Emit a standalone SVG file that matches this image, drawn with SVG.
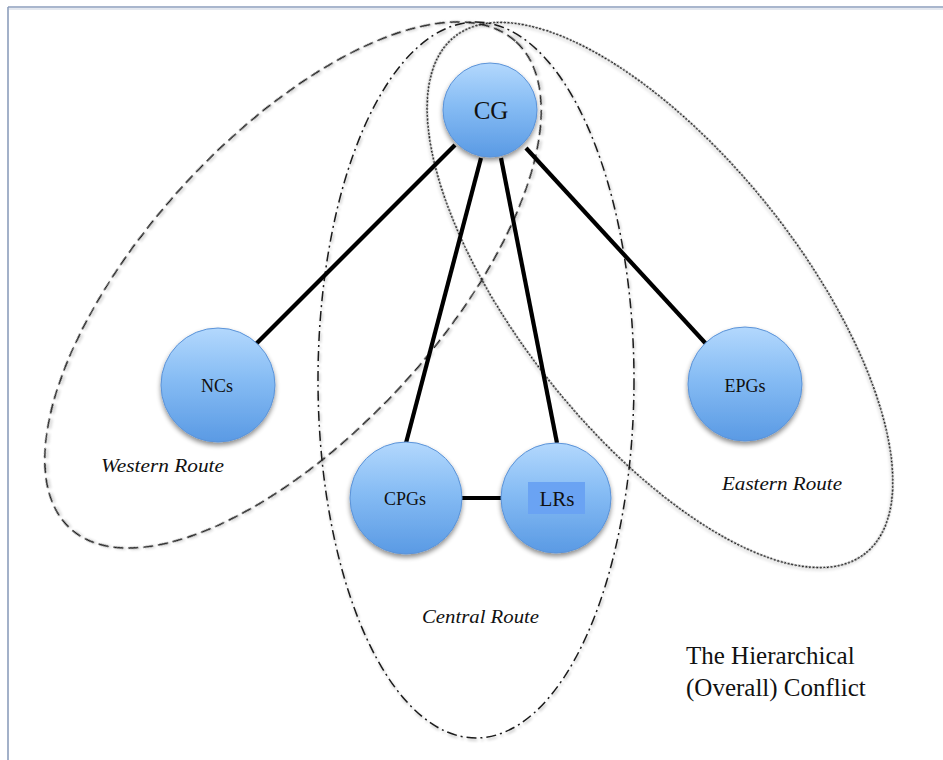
<svg xmlns="http://www.w3.org/2000/svg" width="943" height="760" viewBox="0 0 943 760">
  <defs>
    <linearGradient id="ballFill" x1="0" y1="0" x2="0" y2="1">
      <stop offset="0" stop-color="#b3d8fd"/>
      <stop offset="0.45" stop-color="#86bcf4"/>
      <stop offset="1" stop-color="#5a9ae4"/>
    </linearGradient>
    <filter id="ballShadow" x="-20%" y="-20%" width="140%" height="150%">
      <feGaussianBlur in="SourceAlpha" stdDeviation="2.5"/>
      <feOffset dy="3" result="blur"/>
      <feComponentTransfer><feFuncA type="linear" slope="0.45"/></feComponentTransfer>
      <feMerge><feMergeNode/><feMergeNode in="SourceGraphic"/></feMerge>
    </filter>
    <filter id="lineShadow" x="-10%" y="-10%" width="120%" height="120%">
      <feGaussianBlur in="SourceAlpha" stdDeviation="1.5"/>
      <feOffset dx="1" dy="2"/>
      <feComponentTransfer><feFuncA type="linear" slope="0.3"/></feComponentTransfer>
      <feMerge><feMergeNode/><feMergeNode in="SourceGraphic"/></feMerge>
    </filter>
  </defs>
  <style>
    .frame { stroke: #8c9ebc; stroke-width: 1.6; fill: none; }
    .route { fill: none; stroke: #1a1a1a; stroke-width: 1.5; filter: url(#lineShadow); }
    .west { stroke-dasharray: 10 5; }
    .central { stroke-dasharray: 10 4 2 4; }
    .east { stroke-dasharray: 2.2 1.4; stroke-width: 1.5; stroke: #111; }
    .edge { stroke: #000; stroke-width: 4.2; stroke-linecap: butt; }
    .ball { fill: url(#ballFill); stroke: #5b93d8; stroke-width: 1; filter: url(#ballShadow); }
    .lbl { font-family: "Liberation Serif", "Times New Roman", serif; fill: #111; text-anchor: middle; }
    .route-lbl { font-family: "Liberation Serif", "Times New Roman", serif; font-style: italic; fill: #111; font-size: 19px; }
    .title { font-family: "Liberation Serif", "Times New Roman", serif; fill: #111; font-size: 25px; }
  </style>

  <rect width="943" height="760" fill="#ffffff"/>

  <!-- page frame -->
  <g id="frame">
    <line x1="8" y1="7" x2="943" y2="7" class="frame"/>
    <line x1="8" y1="7" x2="8" y2="760" class="frame"/>
    <line x1="9" y1="9" x2="943" y2="9" stroke="#e4e8ef" stroke-width="2"/>
  </g>

  <!-- route groupings -->
  <g id="routes">
    <ellipse id="western-route" class="route west" cx="293" cy="285" rx="330" ry="148" transform="rotate(-47.5 293 285)"/>
    <ellipse id="central-route" class="route central" cx="476" cy="380" rx="158" ry="358"/>
    <ellipse id="eastern-route" class="route east" cx="660" cy="295" rx="330" ry="140" transform="rotate(51.5 660 295)"/>
  </g>

  <!-- connectors -->
  <g id="connectors">
    <line class="edge" x1="455" y1="145" x2="255" y2="345"/>
    <line class="edge" x1="481" y1="158" x2="406" y2="443"/>
    <line class="edge" x1="501" y1="158" x2="557" y2="443"/>
    <line class="edge" x1="526" y1="148" x2="708" y2="346"/>
    <line class="edge" x1="460" y1="498" x2="503" y2="498" stroke-width="7"/>
  </g>

  <!-- nodes -->
  <g id="node-cg">
    <circle class="ball" cx="490" cy="110" r="47"/>
    <text class="lbl" x="491" y="119" font-size="25">CG</text>
  </g>
  <g id="node-ncs">
    <circle class="ball" cx="218" cy="385" r="57"/>
    <text class="lbl" x="217" y="392" font-size="18">NCs</text>
  </g>
  <g id="node-epgs">
    <circle class="ball" cx="745" cy="384" r="57"/>
    <text class="lbl" x="745" y="392" font-size="18">EPGs</text>
  </g>
  <g id="node-cpgs">
    <circle class="ball" cx="406" cy="498" r="56"/>
    <text class="lbl" x="405" y="505" font-size="18">CPGs</text>
  </g>
  <g id="node-lrs">
    <circle class="ball" cx="556" cy="498" r="55"/>
    <rect x="528" y="482" width="57" height="32" fill="#6aa3f3"/>
    <text class="lbl" x="557" y="506" font-size="21">LRs</text>
  </g>

  <!-- route labels -->
  <g id="labels">
    <text class="route-lbl" x="101" y="472" textLength="123" lengthAdjust="spacingAndGlyphs">Western Route</text>
    <text class="route-lbl" x="722" y="490" textLength="120" lengthAdjust="spacingAndGlyphs">Eastern Route</text>
    <text class="route-lbl" x="422" y="623" textLength="117" lengthAdjust="spacingAndGlyphs">Central Route</text>
    <text class="title" x="686" y="664">The Hierarchical</text>
    <text class="title" x="686" y="696">(Overall) Conflict</text>
  </g>
</svg>
